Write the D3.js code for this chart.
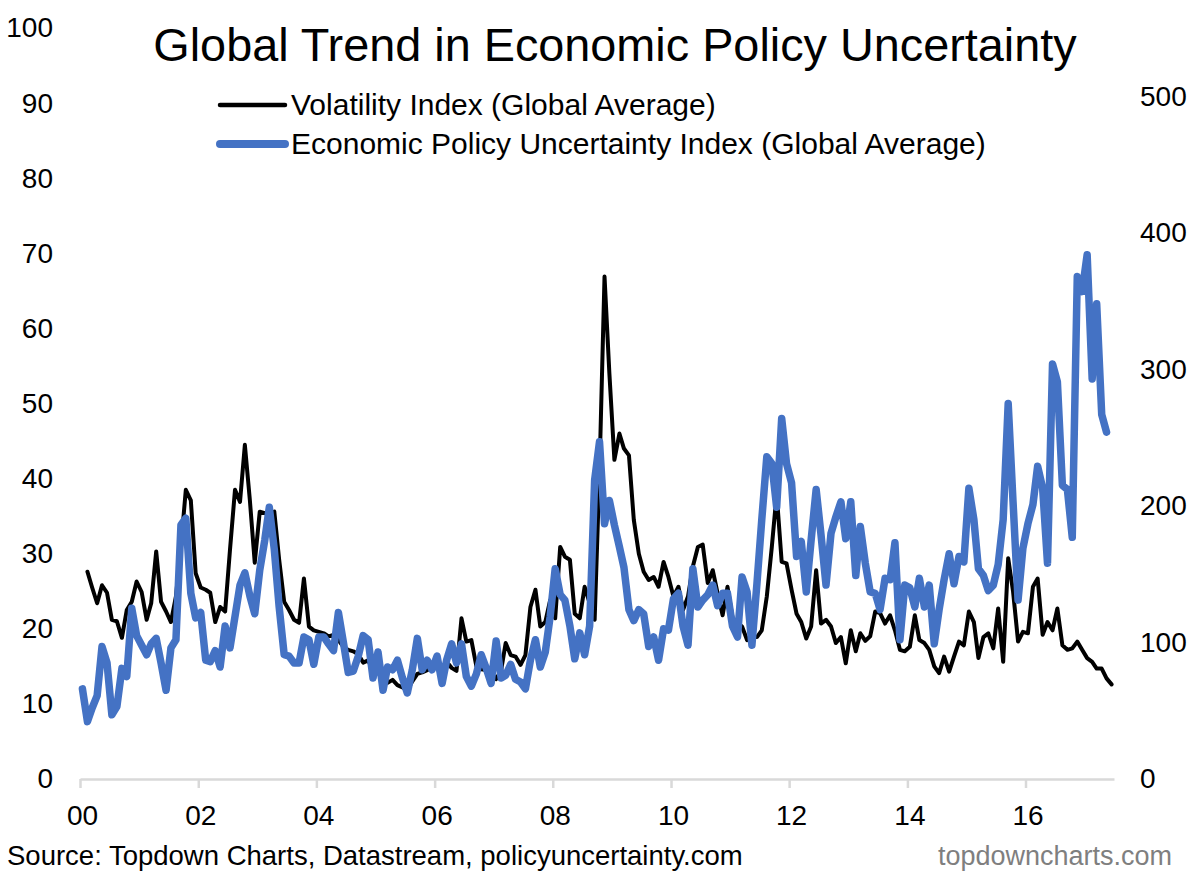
<!DOCTYPE html>
<html>
<head>
<meta charset="utf-8">
<script src="https://cdn.jsdelivr.net/npm/d3@7"></script>
<style>
  body { margin: 0; background: #fff; }
  svg { font-family: "Liberation Sans", Arial, sans-serif; }
</style>
</head>
<body>
<div id="chart"></div>
<script>
const width = 1203;
const height = 878;

// Volatility Index (Global Average), monthly, Feb 2000 .. Jun 2017 (left axis)
const volStart = [2000, 1];
const volatility = [
  27.6, 25.5, 23.4, 25.8, 24.8, 21.2, 21.0, 18.8, 22.5, 23.6, 26.3,
  24.9, 21.2, 23.4, 30.3, 23.6, 22.3, 20.9, 24.3, 31.0, 38.5, 37.1, 27.4,
  25.5, 25.2, 24.8, 20.9, 22.9, 22.3, 30.5, 38.5, 36.9, 44.5, 37.1, 28.8,
  35.6, 35.4, 35.4, 35.6, 29.2, 23.6, 22.5, 21.2, 20.8, 26.7, 20.3, 19.8,
  19.6, 19.4, 19.0, 19.2, 18.5, 17.6, 17.2, 17.0, 16.6, 15.5, 15.8, 14.5,
  14.8, 13.0, 12.8, 13.2, 12.5, 12.2, 11.8, 13.0, 14.0, 14.2, 14.5, 15.0,
  15.8, 14.6, 15.6, 14.8, 14.4, 21.4, 18.3, 18.5, 15.0, 14.6, 14.5, 14.2,
  13.3, 14.5, 18.1, 16.5, 16.3, 15.2, 16.5, 22.9, 25.2, 20.3, 20.9, 23.8,
  21.4, 30.9, 29.6, 29.2, 22.0, 21.4, 25.6, 23.4, 21.2, 41.0, 66.9, 54.0,
  42.5, 46.0, 44.0, 43.1, 34.5, 30.0, 27.6, 26.5, 26.9, 25.6, 28.9, 26.9,
  24.3, 25.6, 22.5, 24.3, 28.3, 30.9, 31.2, 26.1, 27.8, 24.7, 21.8, 25.6,
  21.5, 20.8, 20.3, 18.5, 18.9, 18.9, 19.8, 24.3, 30.9, 38.0, 28.9, 28.7,
  25.2, 22.0, 20.9, 18.7, 20.3, 27.8, 20.7, 21.2, 20.3, 18.1, 18.9, 15.4,
  19.8, 17.0, 19.4, 18.4, 19.0, 22.3, 22.1, 20.7, 21.8, 19.8, 17.2, 17.0,
  17.6, 21.8, 18.5, 18.1, 17.2, 15.0, 14.1, 16.3, 14.3, 16.3, 18.3, 17.8,
  22.3, 20.9, 16.1, 18.9, 19.4, 17.4, 22.7, 15.6, 29.4, 25.0, 18.3, 19.6,
  19.4, 25.6, 26.7, 19.2, 20.9, 19.8, 22.7, 17.8, 17.2, 17.4, 18.3, 17.2,
  16.1, 15.6, 14.7, 14.7, 13.4, 12.6
];

// Economic Policy Uncertainty Index (Global Average), monthly, Jan 2000 .. May 2017 (right axis)
const epuStart = [2000, 0];
const epu = [
  66, 42, 52, 61, 97, 85, 47, 53, 81, 75, 125, 105,
  98, 91, 99, 103, 85, 65, 96, 102, 186, 191, 136, 118,
  122, 87, 86, 94, 82, 112, 96, 119, 142, 151, 134, 121,
  153, 175, 199, 168, 126, 91, 90, 85, 85, 104, 102, 84,
  104, 104, 99, 94, 122, 100, 78, 79, 90, 105, 102, 74,
  93, 65, 82, 80, 87, 74, 63, 80, 103, 80, 87, 80,
  90, 70, 87, 99, 85, 99, 75, 68, 77, 91, 81, 70,
  101, 74, 76, 84, 73, 71, 66, 87, 102, 82, 93, 119,
  154, 135, 131, 112, 88, 107, 91, 112, 219, 247, 187, 204,
  186, 170, 155, 124, 116, 124, 121, 97, 104, 87, 110, 109,
  132, 136, 112, 98, 154, 126, 131, 135, 142, 127, 136, 136,
  112, 104, 148, 137, 98, 143, 190, 236, 231, 199, 264, 231,
  217, 163, 174, 137, 175, 212, 179, 142, 180, 192, 203, 176,
  203, 149, 185, 158, 137, 136, 124, 147, 146, 173, 102, 142,
  140, 126, 147, 126, 142, 99, 124, 146, 165, 143, 163, 159,
  213, 190, 154, 149, 138, 142, 157, 190, 275, 203, 131, 169,
  187, 201, 229, 213, 158, 304, 291, 215, 212, 177, 368, 357,
  384, 293, 348, 267, 254
];

const leftTicks = [0, 10, 20, 30, 40, 50, 60, 70, 80, 90, 100];
const rightTicks = [0, 100, 200, 300, 400, 500];
const yearTicks = [2000, 2002, 2004, 2006, 2008, 2010, 2012, 2014, 2016];

const title = "Global Trend in Economic Policy Uncertainty";
const seriesNames = ["Volatility Index (Global Average)", "Economic Policy Uncertainty Index (Global Average)"];
const sourceText = "Source: Topdown Charts, Datastream, policyuncertainty.com";
const siteText = "topdowncharts.com";

const toPoints = (values, start) =>
  values.map((v, i) => ({ date: new Date(start[0], start[1] + i, 16), value: v }));

const volData = toPoints(volatility, volStart);
const epuData = toPoints(epu, epuStart);

const svg = d3.select("#chart")
  .append("svg")
  .attr("width", width)
  .attr("height", height);

const x = d3.scaleTime()
  .domain([new Date(2000, 0, 1), new Date(2017, 6, 1)])
  .range([80, 1114]);

const yLeft = d3.scaleLinear()
  .domain([0, 100])
  .range([779, 28]);

const yRight = d3.scaleLinear()
  .domain([0, 550])
  .range([779, 28]);

// title
svg.append("text")
  .attr("x", 615)
  .attr("y", 61)
  .attr("text-anchor", "middle")
  .style("font-size", "46.8px")
  .text(title);

// left axis
const leftAxis = svg.append("g")
  .attr("transform", "translate(53,0)")
  .call(d3.axisLeft(yLeft).tickValues(leftTicks).tickSize(0).tickPadding(0));
leftAxis.select(".domain").remove();
leftAxis.selectAll("text")
  .style("font-size", "28px")
  .style("font-family", "'Liberation Sans', Arial, sans-serif")
  .attr("fill", "#000");

// right axis
const rightAxis = svg.append("g")
  .attr("transform", "translate(1140,0)")
  .call(d3.axisRight(yRight).tickValues(rightTicks).tickSize(0).tickPadding(0));
rightAxis.select(".domain").remove();
rightAxis.selectAll("text")
  .style("font-size", "28px")
  .style("font-family", "'Liberation Sans', Arial, sans-serif")
  .attr("fill", "#000");

// x axis
const xAxis = svg.append("g")
  .attr("transform", "translate(0,779)")
  .call(d3.axisBottom(x)
    .tickValues(yearTicks.map(yr => new Date(yr, 0, 1)))
    .tickFormat(d3.timeFormat("%y"))
    .tickSizeInner(9)
    .tickSizeOuter(0)
    .tickPadding(17));
xAxis.select(".domain").attr("stroke", "#d9d9d9").attr("stroke-width", 2.5);
xAxis.selectAll(".tick line").attr("stroke", "#d9d9d9").attr("stroke-width", 2.5);
xAxis.selectAll("text")
  .attr("dx", 2)
  .style("font-size", "28px")
  .style("font-family", "'Liberation Sans', Arial, sans-serif")
  .attr("fill", "#000");

// lines
const volLine = d3.line()
  .x(d => x(d.date))
  .y(d => yLeft(d.value));

const epuLine = d3.line()
  .x(d => x(d.date))
  .y(d => yRight(d.value));

svg.append("path")
  .datum(volData)
  .attr("fill", "none")
  .attr("stroke", "#000")
  .attr("stroke-width", 4)
  .attr("stroke-linejoin", "round")
  .attr("stroke-linecap", "round")
  .attr("d", volLine);

svg.append("path")
  .datum(epuData)
  .attr("fill", "none")
  .attr("stroke", "#4472c4")
  .attr("stroke-width", 7.5)
  .attr("stroke-linejoin", "round")
  .attr("stroke-linecap", "round")
  .attr("d", epuLine);

// legend
const legend = svg.append("g");
const legendRows = [
  { name: seriesNames[0], color: "#000", w: 4.5, y: 105 },
  { name: seriesNames[1], color: "#4472c4", w: 8, y: 144 }
];
legendRows.forEach(r => {
  legend.append("line")
    .attr("x1", 220).attr("x2", 285)
    .attr("y1", r.y).attr("y2", r.y)
    .attr("stroke", r.color)
    .attr("stroke-width", r.w)
    .attr("stroke-linecap", "round");
  legend.append("text")
    .attr("x", 291)
    .attr("y", r.y + 10)
    .style("font-size", "30px")
    .text(r.name);
});

// footer
svg.append("text")
  .attr("x", 7)
  .attr("y", 865)
  .style("font-size", "27.5px")
  .text(sourceText);

svg.append("text")
  .attr("x", 1172)
  .attr("y", 865)
  .attr("text-anchor", "end")
  .attr("fill", "#7f7f7f")
  .style("font-size", "27px")
  .text(siteText);
</script>
</body>
</html>
